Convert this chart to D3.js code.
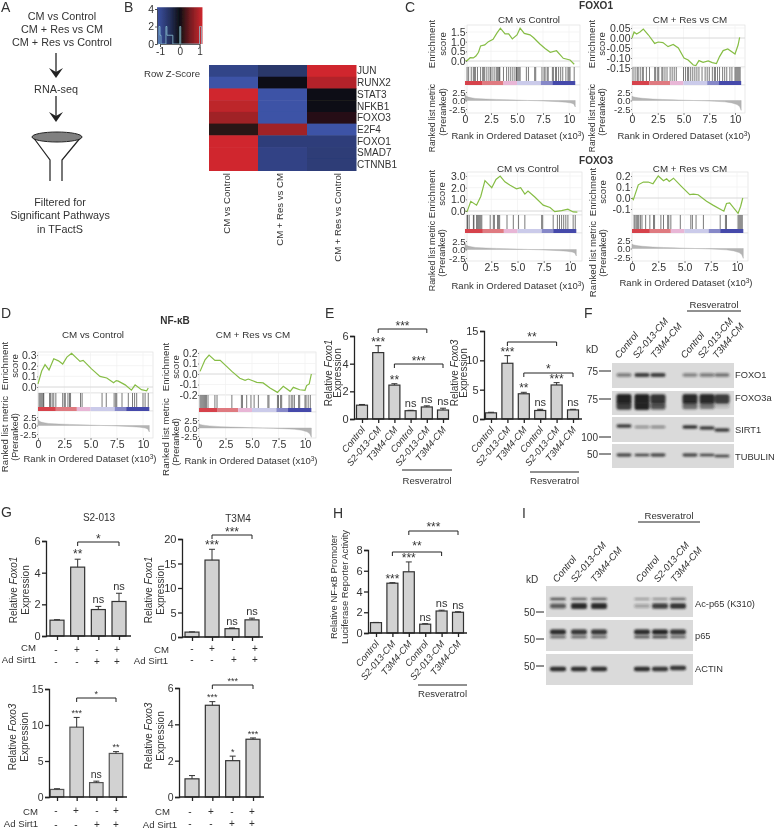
<!DOCTYPE html>
<html><head><meta charset="utf-8">
<script src="https://d3js.org/d3.v7.min.js"></script>
<style>
html,body{margin:0;padding:0;background:#fff}
svg{display:block}
text{font-family:"Liberation Sans",Arial,sans-serif;fill:#333}
</style></head><body>
<svg id="fig" width="775" height="831" viewBox="0 0 775 831"></svg>
<script>
// ---------- DATA ----------
const workflowLines = ["CM vs  Control", "CM + Res vs CM", "CM + Res vs Control"];
const filterLines = ["Filtered for", "Significant Pathways", "in TFactS"];

const heatGenes = ["JUN","RUNX2","STAT3","NFKB1","FOXO3","E2F4","FOXO1","SMAD7","CTNNB1"];
const heatCols = ["CM vs Control","CM + Res vs CM","CM + Res vs Control"];
const heatCM = [-0.8,-1,1,0.9,0.75,0.15,1,1,1];
const heatRes = [-0.6,0,-1,-1,-1,0.75,-0.7,-0.78,-0.78];
const heatResCtl = [1,0.85,-0.05,0,0.12,-1,-0.7,-0.68,-0.68];
const keyBinsX = [-1.1,-1.05,-1.0,-0.95,-0.75,-0.7,-0.65,-0.55,-0.35,-0.3,-0.05,0.0,0.05,0.1,0.95,1.0,1.05,1.1];
const keyBinsY = [0,2,1,0,0,2,1,1,0,0,0,2,0,0,0,2,2,0];

const rankTicks = [0,2.5,5,7.5,10];
const bandEdges = [0,1.7,3.7,5.0,7.3,8.4,10.6];
const metricRanks = [0,0.1,0.3,0.6,1,2,3,4,5,6,7,8,9,9.7,10.2,10.45,10.6];
const metricValsA = [1.8,1.3,1,0.8,0.6,0.42,0.32,0.22,0.12,0.02,-0.08,-0.2,-0.35,-0.5,-0.75,-1.0,-1.9];
const metricValsB = [1.3,1.1,0.95,0.8,0.65,0.42,0.3,0.2,0.1,0,-0.1,-0.22,-0.4,-0.7,-1.2,-1.8,-2.9];
const metricTicks = [2.5,0,-2.5];

const c1Rank = [0.05,0.16,0.5,0.8,1.05,1.3,1.5,1.9,2.25,2.7,3.05,3.4,3.85,4.2,4.55,5,5.3,5.7,6.25,6.6,7.2,7.7,8.2,8.8,9.45,10.1,10.5];
const c1ES = [0.03,0,0.17,0.16,0.26,0.45,0.78,0.83,1,1.12,1.43,1.7,1.4,1.4,1.14,1.35,1.7,1.43,1.35,1.2,0.88,0.65,0.45,0.53,0.14,0.05,-0.17];
const c1Rug = [0.2,0.35,0.6,0.8,0.9,1.0,1.2,1.5,1.7,1.8,1.9,2.1,2.3,2.45,2.6,2.8,3.0,3.1,3.2,3.3,3.35,3.7,4.0,4.2,4.4,4.6,4.8,4.95,5.0,5.1,5.2,5.3,5.9,6.1,6.7,6.8,7.4,7.6,7.7,7.9,8.0,8.4,8.5,8.7,8.8,9.0,9.2,9.4,9.7,9.9,10.0,10.1,10.5];
const c1Ticks = [0,0.5,1,1.5];

const c2Rank = [0,0.2,0.45,0.77,1.1,1.6,2.2,2.55,3,3.5,4,4.5,5.05,5.45,5.95,6.2,6.5,6.9,7.4,7.8,8.2,8.5,8.85,9.3,10,10.3,10.45];
const c2ES = [0,0.03,0.02,0.03,0.045,0.015,-0.027,-0.02,-0.023,-0.043,-0.032,-0.05,-0.1,-0.11,-0.135,-0.138,-0.113,-0.122,-0.115,-0.123,-0.128,-0.093,-0.063,-0.055,-0.08,-0.035,0.003];
const c2Rug = [0.1,0.3,0.5,0.6,0.8,1.0,1.1,1.4,1.7,2.2,2.3,2.5,2.6,2.9,3.0,3.2,3.4,3.7,3.9,4.1,4.3,5.0,5.2,5.4,5.5,5.7,5.9,6.1,6.3,6.5,6.8,7.1,7.3,7.5,7.8,8.0,8.1,8.3,8.5,8.8,9.0,9.2,9.5,9.7,10,10.1,10.2,10.3,10.4,10.5];
const c2Ticks = [0.05,0,-0.05,-0.1,-0.15];

const c3Rank = [0,0.2,0.55,1.1,1.5,1.9,2.55,2.95,3.35,3.8,4.3,4.9,5.3,5.7,6,6.65,7.45,8.1,8.55,9.2,9.8,10.3,10.7];
const c3ES = [0,-0.05,0.83,0.5,1.25,2.6,2,2.7,3,2.5,2.2,1.9,2,1.45,1.7,1.2,0.5,0.3,-0.05,0.03,0.15,-0.08,-0.1];
const c3Rug = [0.2,0.25,0.4,0.8,0.85,1.1,1.2,1.3,1.4,1.5,1.6,2.4,2.7,2.8,3.1,3.2,3.3,4.0,4.6,5.1,5.7,7.3,7.4,8.4,8.8,9.0,9.2,9.4,9.6,9.8,10.3,10.5];
const c3Ticks = [0,1,2,3];

const c4Rank = [0,0.13,0.6,1.08,1.55,2,2.5,3,3.3,3.55,3.95,4.7,5.5,5.85,6.3,7.1,7.75,8.75,9,9.3,10.1,10.35,10.55];
const c4ES = [0,-0.015,0.12,0.145,0.145,0.13,0.2,0.157,0.175,0.15,0.18,0.106,0.03,0.036,0.03,-0.03,-0.067,-0.12,-0.05,-0.045,-0.14,-0.075,0];
const c4Rug = [0.2,0.3,0.45,0.55,0.65,0.8,0.95,1.3,1.7,2.05,2.15,2.75,3.0,3.4,3.5,3.7,4.6,5.6,5.75,6.1,6.8,8.4,8.9,9.0,10.1,10.2,10.3,10.4,10.5];
const c4Ticks = [0.2,0.1,0,-0.1];

const d1Rank = [0,0.35,0.67,1.05,1.5,1.95,2.35,2.75,3.2,4,4.3,5.1,5.9,6.55,7.2,7.45,7.65,8.3,8.9,9.25,9.85,10.35,10.5];
const d1ES = [0.03,0.15,0.21,0.16,0.265,0.245,0.215,0.28,0.315,0.24,0.25,0.17,0.1,0.085,0.04,0.06,0.055,0.02,-0.03,0.02,-0.025,-0.035,-0.01];
const d1Rug = [0.1,0.2,0.3,0.4,0.5,0.55,1.1,1.2,1.35,1.5,1.7,2.35,2.5,2.6,2.85,3.0,3.1,4.05,4.2,6.1,6.5,7.25,7.4,7.5,8.0,8.6,9.0,9.2,9.4,10,10.2,10.5];
const d1Ticks = [0,0.1,0.2,0.3];

const d2Rank = [0.1,0.57,0.95,1.5,2,3.1,3.85,4.35,4.65,5.45,6.05,6.7,7.4,7.95,8.6,8.9,9.5,10,10.15,10.4,10.6];
const d2ES = [0.025,0.135,0.18,0.13,0.13,0.025,-0.04,-0.06,-0.048,-0.08,-0.085,-0.133,-0.175,-0.117,-0.165,-0.127,-0.15,-0.155,-0.11,-0.095,0];
const d2Rug = [0.1,0.2,0.3,0.4,0.5,0.6,0.7,0.85,1.5,1.7,3.1,4.0,4.1,4.5,4.9,5.2,5.6,6.5,6.6,7.4,7.5,7.7,7.8,8.5,8.7,8.85,9.0,9.4,9.5,10,10.1,10.3,10.5];
const d2Ticks = [0.2,0.1,0,-0.1,-0.2];

const resLabels = ["Control","S2-013-CM","T3M4-CM","Control","S2-013-CM","T3M4-CM"];
const e1Values = [1,4.8,2.45,0.6,0.87,0.65];
const e1Tops = [1.05,5.3,2.55,0.63,0.95,0.78];
const e1Sig = ["","***","**","ns","ns","ns"];
const e1Ticks = [0,2,4,6];
const e2Values = [1.05,9.5,4.3,1.45,5.8,1.55];
const e2Tops = [1.15,10.8,4.55,1.65,6.2,1.65];
const e2Sig = ["","***","**","ns","***","ns"];
const e2Ticks = [0,5,10,15];
const hValues = [1,4.8,5.9,0.85,2.12,2.0];
const hTops = [1.02,4.85,6.85,0.9,2.2,2.05];
const hSig = ["","***","***","ns","ns","ns"];
const hTicks = [0,2,4,6,8];

const cmSigns = ["-","+","-","+"];
const adSigns = ["-","-","+","+"];
const g1Values = [1,4.35,1.67,2.18];
const g1Tops = [1.03,4.85,1.87,2.7];
const g1Sig = ["","**","ns","ns"];
const g1Ticks = [0,2,4,6];
const g2Values = [1,15.7,1.7,3.5];
const g2Tops = [1.05,17.9,1.85,3.85];
const g2Sig = ["","***","ns","ns"];
const g2Ticks = [0,5,10,15,20];
const g3Values = [1.05,9.7,2.0,6.05];
const g3Tops = [1.15,11.05,2.2,6.3];
const g3Sig = ["","***","ns","**"];
const g3Ticks = [0,5,10,15];
const g4Values = [1,5.05,2.0,3.18];
const g4Tops = [1.18,5.25,2.25,3.25];
const g4Sig = ["","***","*","***"];
const g4Ticks = [0,2,4,6];

const fFoxo1 = [0.45,0.85,0.85,0.4,0.45,0.5];
const fFoxo3Up = [1,1,0.9,0.95,0.95,0.85];
const fFoxo3Low = [0.85,1,0.7,0.55,0.5,0.08];
const fSirt1 = [0.85,0.35,0.4,0.9,0.85,0.85];
const fTubulin = [0.85,0.8,0.85,0.85,0.8,0.8];
const iAcUp = [0.7,0.6,0.6,0.3,0.35,0.55];
const iAcLow = [0.65,0.95,0.95,0.2,0.8,0.9];
const iP65Up = [0.95,0.9,0.9,0.95,1,0.9];
const iP65Low = [0.6,0.6,0.6,0.7,0.8,0.6];
const iActin = [0.95,0.95,0.95,0.95,0.9,0.9];

// ---------- HELPERS ----------
const svg = d3.select("#fig");
const INK = "#222";
const defs = svg.append("defs");
defs.append("filter").attr("id","bandBlur").attr("x","-30%").attr("y","-100%").attr("width","160%").attr("height","300%")
  .append("feGaussianBlur").attr("stdDeviation","1.1 0.8");
const soft = defs.append("filter").attr("id","soft").attr("x",0).attr("y",0).attr("width","100%").attr("height","100%");
soft.append("feGaussianBlur").attr("stdDeviation",0.4);
const root = svg.append("g").attr("filter","url(#soft)");

function txt(x,y,s,o={}){
  return root.append("text").attr("x",x).attr("y",y).text(s)
    .attr("font-size",o.size||10).attr("text-anchor",o.anchor||"middle")
    .attr("font-weight",o.weight||null).attr("font-style",o.style||null);
}
function vtxt(x,cy,parts,size){
  const t = root.append("text").attr("text-anchor","middle").attr("font-size",size)
    .attr("transform",`translate(${x},${cy}) rotate(-90)`);
  (Array.isArray(parts)?parts:[[parts,false]]).forEach(p=>{
    t.append("tspan").text(p[0]).attr("font-style",p[1]?"italic":null);
  });
  return t;
}
function styleAxis(g,w,color,size){
  g.selectAll("path,line").attr("stroke",color).attr("stroke-width",w);
  g.selectAll("text").attr("font-size",size).style("font-family",'"Liberation Sans",Arial,sans-serif').attr("fill","#333");
}
[["A",1,12],["B",124,12],["C",405,12],["D",1,318],["E",325,318],["F",584,318],["G",1,517],["H",333,518],["I",522,518]]
  .forEach(l=>txt(l[1],l[2],l[0],{size:14,anchor:"start"}));

// ---------- A ----------
workflowLines.forEach((s,i)=>txt(62,20+i*13,s,{size:10.8}));
txt(56,93,"RNA-seq",{size:10.8});
filterLines.forEach((s,i)=>txt(60,206+i*13.3,s,{size:10.8}));
function arrow(x,y1,y2){
  root.append("line").attr("x1",x).attr("x2",x).attr("y1",y1).attr("y2",y2-3).attr("stroke",INK).attr("stroke-width",1.3);
  root.append("path").attr("d",`M${x-7},${y2-10} L${x},${y2-6} L${x+7},${y2-10} L${x},${y2} Z`).attr("fill",INK);
}
arrow(56,53,78); arrow(56,96,122);
root.append("path").attr("d","M33,137 L50,160 L50,181 M81,137 L62,160 L62,181").attr("fill","none").attr("stroke",INK).attr("stroke-width",1.2);
root.append("ellipse").attr("cx",57).attr("cy",137).attr("rx",25).attr("ry",5).attr("fill","#808080").attr("stroke",INK).attr("stroke-width",1);

// ---------- B ----------
const heatColor = d3.scaleLinear().domain([-1,0,1]).range(["#3c52a6","#0e0e12","#d0282e"]);
{
  const kx = d3.scaleLinear().domain([-1,1]).range([160,199.5]);
  const ky = d3.scaleLinear().domain([0,4]).range([44,9]);
  const grad = defs.append("linearGradient").attr("id","keyGrad");
  [-1.15,-0.5,0,0.5,1.15].forEach(v=>grad.append("stop").attr("offset",(v+1.15)/2.3).attr("stop-color",heatColor(Math.max(-1,Math.min(1,v)))));
  root.append("rect").attr("x",kx(-1.15)).attr("y",ky(4.2)).attr("width",kx(1.15)-kx(-1.15)).attr("height",ky(0)-ky(4.2)).attr("fill","url(#keyGrad)");
  root.append("path").datum(keyBinsX.map((x,i)=>[x,keyBinsY[i]]))
    .attr("d",d3.line().x(d=>kx(d[0])).y(d=>ky(d[1])).curve(d3.curveStepAfter))
    .attr("fill","none").attr("stroke","#8fc6d6").attr("stroke-width",1).attr("opacity",0.75);
  const ax = root.append("g").attr("transform","translate(0,44)").call(d3.axisBottom(kx).tickValues([-1,0,1]).tickFormat(d3.format("d")).tickSize(3).tickPadding(1));
  const ay = root.append("g").attr("transform",`translate(${kx(-1.15)},0)`).call(d3.axisLeft(ky).tickValues([0,2,4]).tickFormat(d3.format("d")).tickSize(2).tickPadding(1));
  styleAxis(ax,0.8,"#444",10); styleAxis(ay,0.8,"#444",10.5);
  ax.selectAll("text").text(d=>d<0?"-1":d);
  txt(144,77,"Row Z-Score",{size:9.6,anchor:"start"});
  const hx = d3.scaleBand().domain(heatCols).range([209,356]);
  const hy = d3.scaleBand().domain(heatGenes).range([65,170.5]);
  [heatCM,heatRes,heatResCtl].forEach((vals,c)=>{
    root.append("g").selectAll("rect").data(vals).join("rect")
      .attr("x",hx(heatCols[c])).attr("y",(d,i)=>hy(heatGenes[i]))
      .attr("width",hx.bandwidth()+0.5).attr("height",hy.bandwidth()+0.5).attr("fill",d=>heatColor(d));
  });
  heatGenes.forEach(g=>txt(357,hy(g)+hy.bandwidth()/2+3.5,g,{size:10,anchor:"start"}));
  const colDx = [-7,-3,6];
  heatCols.forEach((c,i)=>{
    root.append("text").text(c).attr("font-size",9.6).attr("text-anchor","end")
      .attr("transform",`translate(${hx(c)+hx.bandwidth()/2+colDx[i]+3.5},173) rotate(-90)`);
  });
}

// ---------- GSEA ----------
const bandColors = ["#d6424c","#df7a80","#e8b6d6","#cbcbea","#8688c8","#4548aa"];
function gsea(c){
  const x = d3.scaleLinear().domain([0,10]).range([c.x0,c.x10]);
  const es = d3.scaleLinear().domain(c.esDom).range(c.esRng);
  const m = d3.scaleLinear().domain([2.5,0]).range([c.m25,c.m0]);
  const g = root.append("g");
  const L = c.x0+(c.lShift||0), R = c.right;
  // panel frames & light grid
  [[c.top,c.rugTop],[c.rugTop,c.bandBot],[c.bandBot,c.bot]].forEach(p=>{
    g.append("rect").attr("x",L).attr("y",p[0]).attr("width",R-L).attr("height",p[1]-p[0]).attr("fill","#fff").attr("stroke","#e0e0e0").attr("stroke-width",0.7);
  });
  rankTicks.forEach(t=>g.append("line").attr("x1",x(t)).attr("x2",x(t)).attr("y1",c.top).attr("y2",c.bot).attr("stroke","#f1f1f1").attr("stroke-width",0.7));
  c.esTicks.forEach(t=>g.append("line").attr("x1",L).attr("x2",R).attr("y1",es(t)).attr("y2",es(t)).attr("stroke",t===0?"#d8d8d8":"#f1f1f1").attr("stroke-width",t===0?1:0.7));
  // rug
  g.append("g").selectAll("line").data(c.rug).join("line")
    .attr("x1",d=>x(d)).attr("x2",d=>x(d)).attr("y1",c.rugTop).attr("y2",c.bandTop)
    .attr("stroke","#2a2a2a").attr("stroke-width",1).attr("opacity",0.62);
  // colour band
  g.append("g").selectAll("rect").data(bandColors).join("rect")
    .attr("x",(d,i)=>x(bandEdges[i])).attr("y",c.bandTop)
    .attr("width",(d,i)=>x(bandEdges[i+1])-x(bandEdges[i])).attr("height",c.bandBot-c.bandTop).attr("fill",d=>d);
  // metric
  g.append("path").datum(metricRanks.map((r,i)=>[r,c.metric[i]]))
    .attr("d",d3.area().x(d=>x(d[0])).y0(m(0)).y1(d=>m(d[1])))
    .attr("fill","#b4b4b4").attr("stroke","#a8a8a8").attr("stroke-width",0.4);
  // enrichment line
  g.append("path").datum(c.rank.map((r,i)=>[r,c.es[i]]))
    .attr("d",d3.line().x(d=>x(d[0])).y(d=>es(d[1])))
    .attr("fill","none").attr("stroke","#86bd45").attr("stroke-width",1.2);
  // axes
  const fmt = v=>d3.format(c.fmt)(v).replace("\u2212","-");
  const ay = g.append("g").attr("transform",`translate(${L},0)`).call(d3.axisLeft(es).tickValues(c.esTicks).tickFormat(fmt).tickSize(1).tickPadding(0.5));
  const am = g.append("g").attr("transform",`translate(${L},0)`).call(d3.axisLeft(m).tickValues(metricTicks).tickFormat(v=>d3.format(".1f")(v).replace("\u2212","-")).tickSize(1).tickPadding(0.5));
  const ax = g.append("g").attr("transform",`translate(0,${c.bot})`).call(d3.axisBottom(x).tickValues(rankTicks).tickFormat(v=>v===2.5||v===7.5?v.toFixed(1):v===5?"5.0":v).tickSize(2).tickPadding(1));
  [ay,ax].forEach(a=>{styleAxis(a,0.8,"#666",10.5); a.select(".domain").remove();});
  styleAxis(am,0.8,"#666",9.6); am.select(".domain").remove();
  txt(c.titleX,c.titleY,c.title,{size:9.8});
  const t = txt(c.rankX,c.rankY,"Rank in Ordered Dataset (x10",{size:9.5});
  t.append("tspan").text("3").attr("dy",-3).attr("font-size",6.5);
  t.append("tspan").text(")").attr("dy",3);
  vtxt(c.x0+c.lab1,c.cyE,"Enrichment",9.6);
  vtxt(c.x0+c.lab2,c.cyE,"score",9.6);
  vtxt(c.x0+c.lab1,c.cyR,"Ranked list metric",c.rSize);
  vtxt(c.x0+c.lab2,c.cyP,"(Preranked)",9);
}
gsea({title:"CM vs Control",rank:c1Rank,es:c1ES,rug:c1Rug,metric:metricValsA,esTicks:c1Ticks,fmt:".1f",x0:465,x10:569,lShift:2,right:580,top:25,rugTop:67,bandTop:81,bandBot:85,bot:113,esDom:[0,1.5],esRng:[61,32],m25:92,m0:100.5,titleX:529,titleY:23,rankX:518,rankY:139,lab1:-30,lab2:-19,cyE:44,cyR:118,cyP:112,rSize:8.6});
gsea({title:"CM + Res vs CM",rank:c2Rank,es:c2ES,rug:c2Rug,metric:metricValsB,esTicks:c2Ticks,fmt:".2f",x0:632,x10:735,right:745,top:25,rugTop:67,bandTop:81,bandBot:85,bot:113,esDom:[0,0.05],esRng:[38,28],m25:92,m0:100.5,titleX:690,titleY:23,rankX:684,rankY:139,lab1:-37,lab2:-27,cyE:44,cyR:118,cyP:112,rSize:8.6});
gsea({title:"CM vs Control",rank:c3Rank,es:c3ES,rug:c3Rug,metric:metricValsA,esTicks:c3Ticks,fmt:".1f",x0:465,x10:570,lShift:2,right:582,top:172,rugTop:215,bandTop:229,bandBot:233,bot:261,esDom:[0,3],esRng:[211,176],m25:241,m0:249.5,titleX:528,titleY:172,rankX:518,rankY:289,lab1:-30,lab2:-20,cyE:194,cyR:256,cyP:253,rSize:8.9});
gsea({title:"CM + Res vs CM",rank:c4Rank,es:c4ES,rug:c4Rug,metric:metricValsB,esTicks:c4Ticks,fmt:".1f",x0:632,x10:737,right:748,top:172,rugTop:215,bandTop:229,bandBot:233,bot:261,esDom:[0,0.2],esRng:[198,176],m25:240,m0:248.5,titleX:690,titleY:172,rankX:686,rankY:286,lab1:-36,lab2:-26,cyE:192,cyR:259,cyP:253,rSize:9.6});
gsea({title:"CM vs Control",rank:d1Rank,es:d1ES,rug:d1Rug,metric:metricValsA,esTicks:d1Ticks,fmt:".1f",x0:38,x10:143,right:153,top:352,rugTop:393,bandTop:407,bandBot:411,bot:438,esDom:[0,0.3],esRng:[387,355],m25:417,m0:425.5,titleX:93,titleY:338,rankX:90,rankY:462,lab1:-30,lab2:-20.5,cyE:366,cyR:434,cyP:437,rSize:9.6});
gsea({title:"CM + Res vs CM",rank:d2Rank,es:d2ES,rug:d2Rug,metric:metricValsB,esTicks:d2Ticks,fmt:".1f",x0:199,x10:305,right:316,top:352,rugTop:395,bandTop:408,bandBot:412,bot:438,esDom:[0,0.2],esRng:[374,353],m25:420,m0:428,titleX:253,titleY:338,rankX:251,rankY:464,lab1:-30,lab2:-20,cyE:367,cyR:437,cyP:442,rSize:9.8});
txt(596,9,"FOXO1",{size:10,weight:"bold"});
txt(596,164,"FOXO3",{size:10,weight:"bold"});
txt(175,324,"NF-\u03BAB",{size:10,weight:"bold"});

// ---------- BAR CHARTS ----------
function barChart(c){
  const idx = c.values.map((d,i)=>i);
  const x = d3.scalePoint().domain(idx).range([c.c0,c.cN]);
  const y = d3.scaleLinear().domain([0,c.ticks[c.ticks.length-1]]).range([c.y0,c.yTop]);
  const g = root.append("g");
  const w = c.barW;
  g.append("g").selectAll("rect").data(c.values).join("rect")
    .attr("x",(d,i)=>x(i)-w/2).attr("y",d=>y(d)).attr("width",w).attr("height",d=>y(0)-y(d))
    .attr("fill","#d2d2d2").attr("stroke",c.barStroke||"#333").attr("stroke-width",1.2);
  g.append("g").selectAll("path").data(c.tops).join("path")
    .attr("d",(d,i)=>`M${x(i)},${y(c.values[i])} V${y(d)} M${x(i)-3},${y(d)} H${x(i)+3}`)
    .attr("fill","none").attr("stroke","#333").attr("stroke-width",1);
  // axes
  const ay = g.append("g").attr("transform",`translate(${c.axisX},0)`).call(d3.axisLeft(y).tickValues(c.ticks).tickFormat(d3.format("d")).tickSize(4).tickPadding(1.5));
  styleAxis(ay,1.3,INK,c.tickSize||11);
  const ax = g.append("g").attr("transform",`translate(0,${c.y0})`).call(d3.axisBottom(x).tickFormat(i=>c.labels?c.labels[i]:"").tickSize(4).tickSizeOuter(0));
  styleAxis(ax,1.3,INK,9.4);
  ax.select(".domain").attr("d",`M${c.axisX},0 H${c.right}`);
  if(c.labels){
    ax.selectAll("text").attr("text-anchor","end").attr("font-style","italic")
      .attr("dx",null).attr("dy",null).attr("y",0).attr("x",0)
      .attr("transform","translate(3,11) rotate(-50)");
  }
  // significance
  c.sig.forEach((s,i)=>{
    if(!s) return;
    const ns = s==="ns";
    const cy = y(c.tops[i]) - (ns?6.5:(c.starOff||5));
    const size = ns?(c.nsSize||11):(c.sigSize||12);
    txt(x(i),ns?cy+3.5:cy+size*0.42,s,{size});
  });
  (c.brackets||[]).forEach(b=>{
    g.append("path").attr("d",`M${x(b.from)},${b.y+4} V${b.y} H${x(b.to)} V${b.y+4}`).attr("fill","none").attr("stroke",INK).attr("stroke-width",1);
    const size=c.sigSize||12;
    txt((x(b.from)+x(b.to))/2,b.labelY+size*0.42,b.text,{size});
  });
  // y label
  vtxt(c.labX1,c.labCY,c.lab1,c.labSize||10);
  vtxt(c.labX2,c.labCY,c.lab2,c.labSize||10);
  if(c.res){
    root.append("line").attr("x1",c.res[0]).attr("x2",c.res[1]).attr("y1",c.res[2]).attr("y2",c.res[2]).attr("stroke",INK).attr("stroke-width",1);
    txt((c.res[0]+c.res[1])/2,c.res[2]+c.res[3],"Resveratrol",{size:9.6});
  }
  if(c.signs){
    const s=c.signs;
    s.cmX.forEach((px,i)=>txt(px,s.cmY+3.5,cmSigns[i],{size:10}));
    s.adX.forEach((px,i)=>txt(px,s.adY+3,adSigns[i],{size:10}));
    txt(s.cmEnd,s.cmLabY+3.5,"CM",{size:9.6,anchor:"end"});
    txt(s.adEnd,s.adLabY+3,"Ad Sirt1",{size:9.6,anchor:"end"});
  }
}
const relF1=[["Relative ",false],["Foxo1",true]], relF3=[["Relative ",false],["Foxo3",true]];
barChart({values:e1Values,tops:e1Tops,sig:e1Sig,ticks:e1Ticks,labels:resLabels,axisX:354,right:449,y0:419,yTop:336,c0:362,cN:443,barW:11,
  labX1:332,labX2:341,labCY:373,lab1:relF1,lab2:"Expression",res:[402,452,470,14],
  brackets:[{from:1,to:4,y:329,labelY:325,text:"***"},{from:2,to:5,y:364,labelY:360,text:"***"}]});
barChart({values:e2Values,tops:e2Tops,sig:e2Sig,ticks:e2Ticks,labels:resLabels,axisX:484,right:582,y0:419,yTop:331,c0:491,cN:573,barW:11,
  labX1:458,labX2:467,labCY:373,lab1:relF3,lab2:"Expression",res:[530,579,472,12],
  brackets:[{from:1,to:4,y:342,labelY:336,text:"**"},{from:2,to:5,y:373,labelY:368,text:"*"}]});
barChart({values:hValues,tops:hTops,sig:hSig,ticks:hTicks,labels:resLabels,axisX:368,right:467,y0:633,yTop:550,c0:376,cN:458,barW:11,
  labX1:337,labX2:348,labCY:587,lab1:"Relative NF-\u03BAB Promoter",lab2:"Luciferase Reporter Activity",labSize:9.4,res:[418,467,685,12],
  brackets:[{from:1,to:4,y:552,labelY:545,text:"**"},{from:2,to:5,y:531,labelY:526,text:"***"}]});
barChart({values:g1Values,tops:g1Tops,sig:g1Sig,ticks:g1Ticks,axisX:46,right:131,y0:636,yTop:541,c0:57,cN:119,barW:14,starOff:6,
  labX1:17,labX2:29,labCY:590,lab1:relF1,lab2:"Expression",
  brackets:[{from:1,to:3,y:542,labelY:538,text:"*"}],
  signs:{cmX:[56,77,97,117],adX:[56,77,97,117],cmY:649,adY:662,cmEnd:36,adEnd:36,cmLabY:647,adLabY:660}});
barChart({values:g2Values,tops:g2Tops,sig:g2Sig,ticks:g2Ticks,axisX:182,right:263,y0:637,yTop:539,c0:192,cN:252,barW:14,
  labX1:152,labX2:164,labCY:590,lab1:relF1,lab2:"Expression",
  brackets:[{from:1,to:3,y:535,labelY:531,text:"***"}],
  signs:{cmX:[192,212,234,255],adX:[192,212,234,255],cmY:648,adY:660,cmEnd:169,adEnd:168,cmLabY:649,adLabY:661}});
barChart({values:g3Values,tops:g3Tops,sig:g3Sig,ticks:g3Ticks,axisX:49,right:127,y0:797,yTop:689,c0:57,cN:116,barW:13.5,sigSize:9,nsSize:10.5,tickSize:10.5,barStroke:"#555",
  labX1:16,labX2:28,labCY:737,lab1:relF3,lab2:"Expression",
  brackets:[{from:1,to:3,y:698,labelY:693,text:"*"}],
  signs:{cmX:[56,76,97,116],adX:[56,76,97,116],cmY:810,adY:825,cmEnd:38,adEnd:38,cmLabY:811,adLabY:824}});
barChart({values:g4Values,tops:g4Tops,sig:g4Sig,ticks:g4Ticks,axisX:179,right:264,y0:797,yTop:688,c0:192,cN:253,barW:14,sigSize:9,tickSize:10.5,
  labX1:152,labX2:164,labCY:736,lab1:relF3,lab2:"Expression",
  brackets:[{from:1,to:3,y:685,labelY:680,text:"***"}],
  signs:{cmX:[190,211,232,252],adX:[190,211,232,252],cmY:811,adY:824,cmEnd:170,adEnd:177,cmLabY:811,adLabY:825}});
txt(99,521,"S2-013",{size:10});
txt(238,522,"T3M4",{size:10});

// ---------- BLOTS ----------
function blot(c){
  const g = root.append("g");
  const lane = d3.scaleOrdinal().domain(d3.range(6)).range(c.lanes);
  c.rows.forEach(r=>{
    g.append("rect").attr("x",c.x0).attr("y",r.y0).attr("width",c.x1-c.x0).attr("height",r.y1-r.y0).attr("fill","#dadada");
    r.bands.forEach(b=>{
      g.append("g").attr("filter","url(#bandBlur)").selectAll("rect").data(b.v).join("rect")
        .attr("x",(d,i)=>lane(i)-c.bandW/2).attr("width",c.bandW)
        .attr("y",(d,i)=>b.y+(b.dy?b.dy[i]:0)-b.h*(0.55+0.45*d)/2)
        .attr("height",d=>b.h*(0.55+0.45*d)).attr("rx",2)
        .attr("fill","#1c1c1c").attr("opacity",d=>0.12+0.85*d);
    });
    txt(c.labX,r.labY+3.5,r.label,{size:9.3,anchor:"start"});
  });
  c.marks.forEach(m=>{
    g.append("line").attr("x1",m.x1).attr("x2",m.x2).attr("y1",m.y).attr("y2",m.y).attr("stroke",INK).attr("stroke-width",1);
    txt(m.x1-1,m.y+3.5,m.t,{size:10,anchor:"end"});
  });
  txt(c.kd[0],c.kd[1]+3.5,"kD",{size:10});
  c.labStarts.forEach((p,i)=>{
    root.append("text").text(resLabels[i]).attr("font-size",9.6).attr("font-style","italic")
      .attr("transform",`translate(${p},${c.labY}) rotate(-50)`);
  });
  root.append("line").attr("x1",c.res[0]).attr("x2",c.res[1]).attr("y1",c.res[2]).attr("y2",c.res[2]).attr("stroke",INK).attr("stroke-width",1);
  txt((c.res[0]+c.res[1])/2,c.res[2]-3,"Resveratrol",{size:9.6});
}
blot({x0:612,x1:734,lanes:[624,642,658,690,707,722],bandW:15,labX:735,kd:[592,349],labY:359,labStarts:[619,637,655,685,702,717],res:[687,741,311],
  rows:[
    {y0:363,y1:388,label:"FOXO1",labY:374,bands:[{y:375,h:4.5,v:fFoxo1}]},
    {y0:391,y1:415,label:"FOXO3a",labY:397,bands:[{y:399,h:10,v:fFoxo3Up},{y:406,h:8,v:fFoxo3Low}]},
    {y0:417,y1:442,label:"SIRT1",labY:429,bands:[{y:427,h:3.5,v:fSirt1,dy:[-1,0,0,0,1,3]}]},
    {y0:444,y1:468,label:"TUBULIN",labY:456,bands:[{y:455,h:3,v:fTubulin,dy:[0,0,0,0,0,1]}]}
  ],
  marks:[{x1:599,x2:611,y:371,t:"75"},{x1:599,x2:611,y:399,t:"75"},{x1:599,x2:611,y:437,t:"100"},{x1:599,x2:611,y:454,t:"50"}]});
blot({x0:546,x1:693,lanes:[558,579,599,642,660,678],bandW:16,labX:695,kd:[532,579],labY:583,labStarts:[557,575,595,640,658,675],res:[638,700,522],
  rows:[
    {y0:586,y1:617,label:"Ac-p65 (K310)",labY:603,bands:[{y:599,h:3,v:iAcUp},{y:606,h:6,v:iAcLow}]},
    {y0:620,y1:651,label:"p65",labY:635,bands:[{y:632,h:5,v:iP65Up},{y:637,h:3,v:iP65Low}]},
    {y0:654,y1:685,label:"ACTIN",labY:668,bands:[{y:669,h:4.5,v:iActin,dy:[0,0,0,0,0,-1]}]}
  ],
  marks:[{x1:536,x2:544,y:612,t:"50"},{x1:536,x2:544,y:639,t:"50"},{x1:536,x2:544,y:666,t:"50"}]});
</script>
</body></html>
